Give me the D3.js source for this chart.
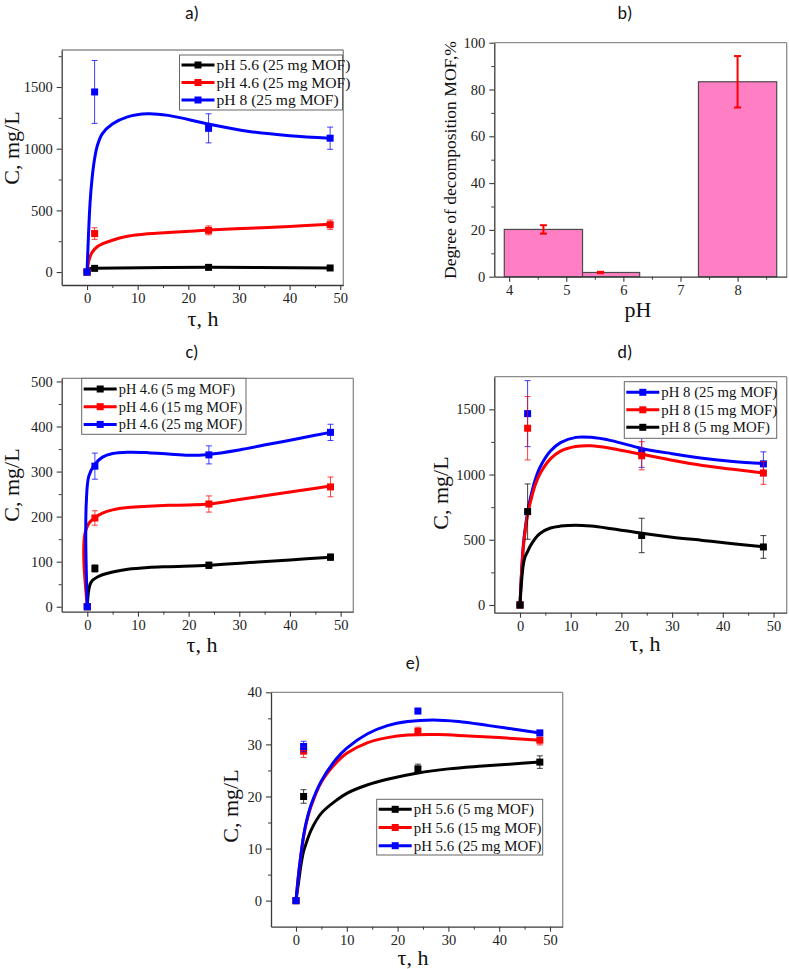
<!DOCTYPE html>
<html><head><meta charset="utf-8">
<script src="https://cdn.jsdelivr.net/npm/d3@7/dist/d3.min.js"></script>
<style>body{margin:0;background:#fff}</style>
</head><body>
<svg id="chart" width="789" height="969"></svg>
<script>
// ---------- DATA ----------
const timeH = [0, 1.5, 24, 48];

// panel a) – 25 mg MOF, different pH
const aNames = ["pH 5.6 (25 mg MOF)", "pH 4.6 (25 mg MOF)", "pH 8 (25 mg MOF)"];
const a_pH56 = [0, 30, 38, 33];
const a_pH56_err = [0, 8, 8, 7];
const a_pH46 = [0, 312, 338, 384];
const a_pH46_err = [0, 47, 36, 38];
const a_pH8 = [0, 1460, 1165, 1085];
const a_pH8_err = [0, 255, 118, 90];
const a_fit_pH56 = [[0,0],[0.2,20],[0.5,28],[1.5,30],[24,38],[48,33]];
const a_fit_pH46 = [[0,0],[0.3,80],[0.6,125],[1,160],[2,205],[3,228],[5,258],[8,290],[12,310],[16,320],[24,340],[32,355],[40,370],[48,387]];
const a_fit_pH8 = [[0,0],[0.3,310],[0.6,560],[1,760],[1.5,920],[2,1020],[3,1120],[5,1200],[8,1258],[12,1283],[16,1270],[24,1200],[32,1140],[40,1105],[48,1085]];

// panel b) – degree of decomposition
const bPH = [5.6, 4.6, 8];
const bDegree = [1.8, 20.2, 83.3];
const bDegreeErr = [0.3, 1.8, 11];

// panel c) – pH 4.6, different MOF mass
const cNames = ["pH 4.6 (5 mg MOF)", "pH 4.6 (15 mg MOF)", "pH 4.6 (25 mg MOF)"];
const c_5mg = [0, 85, 92, 110];
const c_5mg_err = [0, 8, 7, 7];
const c_15mg = [0, 197, 228, 266];
const c_15mg_err = [0, 16, 18, 22];
const c_25mg = [0, 312, 337, 387];
const c_25mg_err = [0, 29, 20, 18];
const c_fit_5mg = [[0,0],[0.2,30],[0.5,48],[1,58],[2,66],[3,71],[5,77],[8,83],[12,87],[16,89],[24,92],[32,98],[40,104],[48,110]];
const c_fit_15mg = [[0,0],[-0.7,110],[-0.5,160],[0.3,185],[1.5,198],[3,208],[5,215],[8,220],[12,223],[16,225],[20,226],[24,228],[30,238],[36,248],[42,258],[48,268]];
const c_fit_25mg = [[0,0],[-0.3,150],[-0.2,230],[0.3,290],[1.5,316],[3,332],[5,340],[8,343],[12,342],[16,339],[20,336],[24,338],[30,348],[36,361],[42,374],[48,387]];

// panel d) – pH 8, different MOF mass
const dNames = ["pH 8 (25 mg MOF)", "pH 8 (15 mg MOF)", "pH 8 (5 mg MOF)"];
const d_25mg = [0, 1467, 1170, 1082];
const d_25mg_err = [0, 253, 115, 92];
const d_15mg = [0, 1355, 1144, 1012];
const d_15mg_err = [0, 243, 108, 87];
const d_5mg = [0, 716, 533, 445];
const d_5mg_err = [0, 212, 132, 87];
const d_fit_25mg = [[0,0],[0.3,250],[0.7,480],[1,580],[1.5,710],[2,810],[3,960],[4,1060],[6,1180],[8,1245],[11,1285],[14,1285],[18,1260],[24,1200],[30,1160],[36,1125],[42,1100],[48,1085]];
const d_fit_15mg = [[0,0],[0.3,240],[0.7,460],[1,560],[1.5,690],[2,780],[3,920],[4,1010],[6,1120],[8,1180],[11,1215],[14,1220],[18,1200],[24,1155],[30,1110],[36,1070],[42,1040],[48,1012]];
const d_fit_5mg = [[0,0],[0.3,180],[0.7,320],[1,370],[1.5,410],[2,450],[3,510],[4,550],[6,590],[8,605],[11,612],[14,605],[18,585],[24,550],[30,520],[36,495],[42,470],[48,447]];

// panel e) – pH 5.6, different MOF mass
const eNames = ["pH 5.6 (5 mg MOF)", "pH 5.6 (15 mg MOF)", "pH 5.6 (25 mg MOF)"];
const e_5mg = [0, 20.0, 25.3, 26.6];
const e_5mg_err = [0, 1.3, 0.9, 1.2];
const e_15mg = [0, 28.7, 32.5, 30.8];
const e_15mg_err = [0, 1.2, 0.8, 0.9];
const e_25mg = [0, 29.6, 36.4, 32.2];
const e_25mg_err = [0, 1.0, 0.5, 0.5];
const e_fit_5mg = [[0,0],[0.5,3.5],[1,7],[1.5,9.5],[2,11],[3,13.6],[5,16.8],[8,19.3],[10,20.6],[14,22.2],[18,23.3],[24,24.5],[30,25.3],[36,25.8],[42,26.2],[48,26.6]];
const e_fit_15mg = [[0,0],[0.5,5],[1,9],[1.5,12.3],[2,14.8],[3,18.2],[5,22.8],[8,26.6],[10,28.3],[14,30.3],[18,31.3],[22,31.8],[28,31.9],[34,31.6],[40,31.3],[48,30.8]];
const e_fit_25mg = [[0,0],[0.5,5],[1,9],[1.5,12.5],[2,15],[3,18.5],[5,23],[8,27.3],[10,29.3],[14,32],[18,33.6],[22,34.4],[27,34.7],[32,34.4],[38,33.6],[43,32.9],[48,32.2]];

const timeTicks = [0, 10, 20, 30, 40, 50];
const timeMinor = [5, 15, 25, 35, 45];

// ---------- DRAWING ----------
const svg = d3.select("#chart");
const SERIF = "'Liberation Serif','Times New Roman',serif";
const SANS = "Carlito,'Open Sans','Noto Sans',sans-serif";
const BLACK = "#000000", RED = "#ff0000", BLUE = "#0000ff";
let clipId = 0;

function frameAndAxes(p, x, y) {
  const g = svg.append("g");
  g.append("line").attr("x1", p.left).attr("x2", p.right).attr("y1", p.top).attr("y2", p.top)
    .attr("stroke", "#8c8c8c").attr("stroke-width", 1.3);
  g.append("line").attr("x1", p.right).attr("x2", p.right).attr("y1", p.top).attr("y2", p.bottom)
    .attr("stroke", "#8c8c8c").attr("stroke-width", 1.3);

  const styleAxis = sel => {
    sel.select(".domain").attr("stroke", "#3a3a3a").attr("stroke-width", 1.3);
    sel.selectAll(".tick line").attr("stroke", "#3a3a3a").attr("stroke-width", 1.1);
    sel.selectAll("text").attr("font-family", SERIF).attr("font-size", p.tickFont || 14.5).attr("fill", "#222");
  };
  const xg = g.append("g").attr("transform", `translate(0,${p.bottom})`)
    .call(d3.axisBottom(x).tickValues(p.xTicks).tickSize(5).tickSizeOuter(0).tickPadding(3)
      .tickFormat(p.xFormat || d3.format("d")));
  styleAxis(xg);
  const xm = g.append("g").attr("transform", `translate(0,${p.bottom})`)
    .call(d3.axisBottom(x).tickValues(p.xMinor).tickSize(3).tickSizeOuter(0).tickFormat(""));
  xm.select(".domain").remove();
  xm.selectAll(".tick line").attr("stroke", "#3a3a3a");

  const yg = g.append("g").attr("transform", `translate(${p.left},0)`)
    .call(d3.axisLeft(y).tickValues(p.yTicks).tickSize(5).tickSizeOuter(0).tickPadding(4)
      .tickFormat(d3.format("d")));
  styleAxis(yg);
  const ym = g.append("g").attr("transform", `translate(${p.left},0)`)
    .call(d3.axisLeft(y).tickValues(p.yMinor).tickSize(3).tickSizeOuter(0).tickFormat(""));
  ym.select(".domain").remove();
  ym.selectAll(".tick line").attr("stroke", "#3a3a3a");

  // titles & labels
  svg.append("text").attr("x", p.titleX).attr("y", p.titleY).attr("text-anchor", "middle")
    .attr("font-family", SANS).attr("font-size", 18).attr("fill", "#111").text(p.title);
  svg.append("text").attr("x", p.xLabelX).attr("y", p.xLabelY).attr("text-anchor", "middle")
    .attr("font-family", SERIF).attr("font-size", p.xLabelFont || 22).attr("fill", "#111").text(p.xLabel);
  svg.append("text").attr("transform", `translate(${p.yLabelX},${p.yLabelY}) rotate(-90)`)
    .attr("text-anchor", "middle").attr("font-family", SERIF).attr("font-size", p.yLabelFont || 22)
    .attr("fill", "#111").text(p.yLabel);
}

function linePanel(p) {
  const x = d3.scaleLinear().domain(p.xDomain).range([p.left, p.right]);
  const y = d3.scaleLinear().domain(p.yDomain).range([p.bottom, p.top]);
  const id = "clip" + (clipId++);
  svg.append("clipPath").attr("id", id).append("rect")
    .attr("x", p.left).attr("y", p.top).attr("width", p.right - p.left).attr("height", p.bottom - p.top);

  frameAndAxes(p, x, y);

  const line = d3.line().x(d => x(d[0])).y(d => y(d[1])).curve(d3.curveCatmullRom.alpha(0.5));
  const plot = svg.append("g").attr("clip-path", `url(#${id})`);
  p.series.forEach(s => {
    plot.append("path").datum(s.fit).attr("d", line).attr("fill", "none")
      .attr("stroke", s.color).attr("stroke-width", 3).attr("stroke-linejoin", "round");
    timeH.forEach((t, i) => {
      const e = s.err[i];
      if (e > 0) {
        const cx = x(t), y1 = y(s.values[i] + e), y2 = y(s.values[i] - e);
        plot.append("line").attr("x1", cx).attr("x2", cx).attr("y1", y1).attr("y2", y2)
          .attr("stroke", s.color).attr("stroke-width", 1).attr("opacity", 0.75);
        [y1, y2].forEach(yy => plot.append("line").attr("x1", cx - 3).attr("x2", cx + 3)
          .attr("y1", yy).attr("y2", yy).attr("stroke", s.color).attr("stroke-width", 1).attr("opacity", 0.75));
      }
      plot.append("rect").attr("x", x(t) - 3.5).attr("y", y(s.values[i]) - 3.5)
        .attr("width", 7).attr("height", 7).attr("fill", s.color);
    });
  });

  // legend
  const L = p.legend;
  const lg = svg.append("g");
  lg.append("rect").attr("x", L.x).attr("y", L.y).attr("width", L.w).attr("height", L.h)
    .attr("fill", "#fff").attr("stroke", "#666").attr("stroke-width", 1);
  p.series.forEach((s, i) => {
    const yy = L.y + L.first + i * L.step;
    lg.append("line").attr("x1", L.x + 2).attr("x2", L.x + 35).attr("y1", yy).attr("y2", yy)
      .attr("stroke", s.color).attr("stroke-width", 3);
    lg.append("rect").attr("x", L.x + 18.5 - 3.5).attr("y", yy - 3.5).attr("width", 7).attr("height", 7)
      .attr("fill", s.color);
    lg.append("text").attr("x", L.x + 37).attr("y", yy + 5).attr("font-family", SERIF)
      .attr("font-size", L.font || 14.4).attr("fill", "#111").text(s.name);
  });
}

// a)
linePanel({
  left: 61.7, right: 343.3, top: 50, bottom: 285,
  xDomain: [-5, 50.6], yDomain: [-105, 1800],
  xTicks: timeTicks, xMinor: timeMinor,
  yTicks: [0, 500, 1000, 1500], yMinor: [250, 750, 1250, 1750],
  title: "a)", titleX: 192, titleY: 19,
  xLabel: "τ, h", xLabelX: 203, xLabelY: 326,
  yLabel: "C, mg/L", yLabelX: 18.5, yLabelY: 148,
  legend: { x: 179.5, y: 55, w: 163, h: 55, first: 10, step: 17.5, font: 15.6 },
  series: [
    { name: aNames[0], color: BLACK, values: a_pH56, err: a_pH56_err, fit: a_fit_pH56 },
    { name: aNames[1], color: RED, values: a_pH46, err: a_pH46_err, fit: a_fit_pH46 },
    { name: aNames[2], color: BLUE, values: a_pH8, err: a_pH8_err, fit: a_fit_pH8 }
  ]
});

// b)
(function () {
  const p = {
    left: 494.3, right: 786.7, top: 42.7, bottom: 276.7,
    xTicks: [4, 5, 6, 7, 8], xMinor: [4.5, 5.5, 6.5, 7.5, 8.5],
    yTicks: [0, 20, 40, 60, 80, 100], yMinor: [10, 30, 50, 70, 90],
    title: "b)", titleX: 625, titleY: 19,
    xLabel: "pH", xLabelX: 638, xLabelY: 317,
    yLabel: "Degree of decomposition MOF,%", yLabelX: 456, yLabelY: 160, yLabelFont: 17.6
  };
  const x = d3.scaleLinear().domain([3.74, 8.86]).range([p.left, p.right]);
  const y = d3.scaleLinear().domain([0, 100]).range([p.bottom, p.top]);
  const halfW = 0.685;
  const g = svg.append("g");
  bPH.forEach((ph, i) => {
    g.append("rect").attr("x", x(ph - halfW)).attr("y", y(bDegree[i]))
      .attr("width", x(ph + halfW) - x(ph - halfW)).attr("height", y(0) - y(bDegree[i]))
      .attr("fill", "#ff7ec4").attr("stroke", "#4a4a4a").attr("stroke-width", 1.2);
  });
  bPH.forEach((ph, i) => {
    const cx = x(ph), y1 = y(bDegree[i] + bDegreeErr[i]), y2 = y(bDegree[i] - bDegreeErr[i]);
    g.append("line").attr("x1", cx).attr("x2", cx).attr("y1", y1).attr("y2", y2)
      .attr("stroke", "#ff0000").attr("stroke-width", 2);
    [y1, y2].forEach(yy => g.append("line").attr("x1", cx - 3.5).attr("x2", cx + 3.5)
      .attr("y1", yy).attr("y2", yy).attr("stroke", "#ff0000").attr("stroke-width", 2));
  });
  frameAndAxes(p, x, y);
})();

// c)
linePanel({
  left: 61.7, right: 353.3, top: 378.3, bottom: 611.7,
  xDomain: [-5.05, 52.5], yDomain: [-11, 507],
  xTicks: timeTicks, xMinor: timeMinor,
  yTicks: [0, 100, 200, 300, 400, 500], yMinor: [50, 150, 250, 350, 450],
  title: "c)", titleX: 192, titleY: 358,
  xLabel: "τ, h", xLabelX: 202, xLabelY: 652,
  yLabel: "C, mg/L", yLabelX: 19, yLabelY: 485,
  legend: { x: 81.7, y: 378.3, w: 164.3, h: 56, first: 10.7, step: 17.7, font: 14.4 },
  series: [
    { name: cNames[0], color: BLACK, values: c_5mg, err: c_5mg_err, fit: c_fit_5mg },
    { name: cNames[1], color: RED, values: c_15mg, err: c_15mg_err, fit: c_fit_15mg },
    { name: cNames[2], color: BLUE, values: c_25mg, err: c_25mg_err, fit: c_fit_25mg }
  ]
});

// d)
linePanel({
  left: 494.3, right: 786.7, top: 376.7, bottom: 612.7,
  xDomain: [-5.07, 52.6], yDomain: [-59, 1750],
  xTicks: timeTicks, xMinor: timeMinor,
  yTicks: [0, 500, 1000, 1500], yMinor: [250, 750, 1250],
  title: "d)", titleX: 625, titleY: 358,
  xLabel: "τ, h", xLabelX: 645, xLabelY: 651,
  yLabel: "C, mg/L", yLabelX: 448, yLabelY: 493,
  legend: { x: 624.3, y: 381.7, w: 152.4, h: 56.6, first: 10.6, step: 17.5, font: 14.8 },
  series: [
    { name: dNames[0], color: BLUE, values: d_25mg, err: d_25mg_err, fit: d_fit_25mg },
    { name: dNames[1], color: RED, values: d_15mg, err: d_15mg_err, fit: d_fit_15mg },
    { name: dNames[2], color: BLACK, values: d_5mg, err: d_5mg_err, fit: d_fit_5mg }
  ]
});

// e)
linePanel({
  left: 271, right: 562.7, top: 692.3, bottom: 926.7,
  xDomain: [-4.92, 52.5], yDomain: [-5, 40],
  xTicks: timeTicks, xMinor: timeMinor,
  yTicks: [0, 10, 20, 30, 40], yMinor: [5, 15, 25, 35],
  title: "e)", titleX: 413, titleY: 669,
  xLabel: "τ, h", xLabelX: 413, xLabelY: 965,
  yLabel: "C, mg/L", yLabelX: 238, yLabelY: 806,
  legend: { x: 376.7, y: 799.3, w: 166, h: 55.7, first: 10, step: 18.2, font: 14.9 },
  series: [
    { name: eNames[0], color: BLACK, values: e_5mg, err: e_5mg_err, fit: e_fit_5mg },
    { name: eNames[1], color: RED, values: e_15mg, err: e_15mg_err, fit: e_fit_15mg },
    { name: eNames[2], color: BLUE, values: e_25mg, err: e_25mg_err, fit: e_fit_25mg }
  ]
});
</script>
</body></html>
